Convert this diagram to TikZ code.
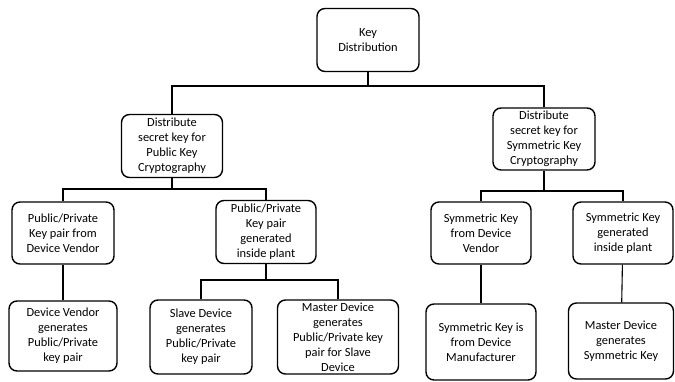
\documentclass[tikz,border=0pt]{standalone}
\usepackage{fontspec}
\setmainfont{Carlito}
\usepackage{tikz}

\begin{document}
\begin{tikzpicture}[x=1pt, y=-1pt,
  box/.style={draw=black, line width=1.4pt, rounded corners=8pt, align=center,
    inner sep=0pt, font=\fontsize{12.4}{15}\selectfont},
  link/.style={draw=black, line width=1.1pt}]

  \useasboundingbox (0,0) rectangle (675,381);

  \node[box, minimum width=102, minimum height=63] (keydist) at (368,40) {Key\\Distribution};

  \node[box, minimum width=101, minimum height=63] (pubdist) at (172,146) {Distribute\\secret key for\\Public Key\\Cryptography};
  \node[box, minimum width=102, minimum height=62] (symdist) at (544,139) {Distribute\\secret key for\\Symmetric Key\\Cryptography};

  \node[box, minimum width=102, minimum height=62] (pubvendor) at (63,233) {Public/Private\\Key pair from\\Device Vendor};
  \node[box, minimum width=100, minimum height=63] (pubplant) at (266,232) {Public/Private\\Key pair\\generated\\inside plant};
  \node[box, minimum width=100, minimum height=62] (symvendor) at (481,233) {Symmetric Key\\from Device\\Vendor};
  \node[box, minimum width=100, minimum height=62] (symplant) at (623,233) {Symmetric Key\\generated\\inside plant};

  \node[box, minimum width=108, minimum height=70] (vendorgen) at (63,336) {Device Vendor\\generates\\Public/Private\\key pair};
  \node[box, minimum width=102, minimum height=74] (slavegen) at (201,337) {Slave Device\\generates\\Public/Private\\key pair};
  \node[box, minimum width=121, minimum height=74] (mastergen) at (338,337) {Master Device\\generates\\Public/Private key\\pair for Slave\\Device};
  \node[box, minimum width=110, minimum height=76] (symmanuf) at (481,342) {Symmetric Key is\\from Device\\Manufacturer};
  \node[box, minimum width=105, minimum height=76] (symmaster) at (621,341) {Master Device\\generates\\Symmetric Key};

  % bus lines
  \coordinate (bustop) at (368,86);
  \coordinate (buspub) at (172,189);
  \coordinate (bussym) at (544,191);
  \coordinate (busplant) at (266,280);

  \draw[link] (keydist) -- (bustop);
  \draw[link] (pubdist.north) |- (bustop) -| (symdist.north);

  \draw[link] (pubdist) -- (buspub);
  \draw[link] (pubvendor.north) |- (buspub) -| (pubplant.north);
  \draw[link] (symdist) -- (bussym);
  \draw[link] (symvendor.north) |- (bussym) -| (symplant.north);

  \draw[link] (pubvendor) -- (vendorgen);
  \draw[link] (pubplant) -- (busplant);
  \draw[link] (slavegen.north) |- (busplant) -| (mastergen.north);
  \draw[link] (symvendor) -- (symmanuf);
  \draw[link] (symplant) -- (symmaster);

\end{tikzpicture}
\end{document}
